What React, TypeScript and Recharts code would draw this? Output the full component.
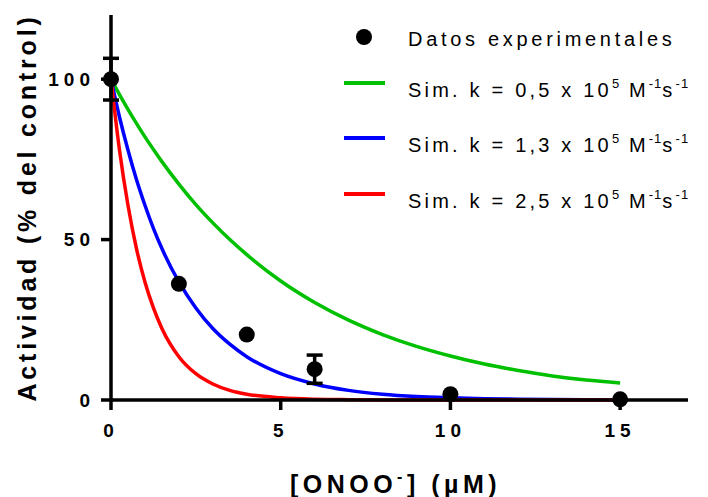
import { ComposedChart, Line, Scatter, ErrorBar, XAxis, YAxis, Legend, Label } from 'recharts';

// simulated decay curves
const simX = [0, 0.25, 0.5, 0.75, 1, 1.25, 1.5, 2, 2.5, 3, 3.5, 4, 5, 6, 7, 8, 9, 10, 11, 12, 13, 14, 15];
const greenY = [100, 95.2, 90.6, 86.2, 82.0, 78.1, 74.3, 67.3, 60.9, 55.2, 50.0, 45.3, 37.1, 30.4, 24.9, 20.4, 16.7, 13.7, 11.2, 9.2, 7.5, 6.2, 5.3];
const blueY = [100, 88.2, 77.9, 68.7, 60.7, 53.5, 47.2, 36.8, 28.7, 22.3, 17.4, 13.5, 8.2, 5.0, 3.0, 1.8, 1.1, 0.7, 0.4, 0.25, 0.15, 0.1, 0.05];
const redY = [100, 77.9, 60.7, 47.2, 36.8, 28.7, 22.3, 13.5, 8.2, 5.0, 3.0, 1.8, 0.7, 0.25, 0.1, 0.03, 0.01, 0, 0, 0, 0, 0, 0];

// experimental points
const expX = [0, 2, 4, 6, 10, 15];
const expY = [100, 36.2, 20.4, 9.6, 1.8, 0.2];
const expErr = [6.5, null, null, 4.4, null, null];

const kLabels = ['0,5', '1,3', '2,5'];
const COLORS = ['#00C000', '#0000FF', '#FF0000'];
const xTicks = [0, 5, 10, 15];
const yTicks = [0, 50, 100];

const FONT = '"Liberation Sans", Arial, sans-serif';

const simRows = simX.map((x, i) => ({ x, green: greenY[i], blue: blueY[i], red: redY[i] }));
const expRows = expX.map((x, i) => ({ x, y: expY[i], err: expErr[i] }));

const tickStyle = { fill: '#000', fontSize: 19, fontWeight: 'bold', fontFamily: FONT, letterSpacing: 5 };

const sup = { fontSize: 13, position: 'relative' as const, top: -9, letterSpacing: 1 };

function LegendBox() {
  const text = { position: 'absolute' as const, left: 408, fontSize: 20, lineHeight: '20px', letterSpacing: 3.7, whiteSpace: 'nowrap' as const, fontFamily: FONT, color: '#000' };
  const lineY = [83, 138, 194];
  return (
    <div style={{ position: 'relative', width: 708, height: 497 }}>
      <div style={{ position: 'absolute', left: 356, top: 29, width: 16, height: 16, borderRadius: 8, background: '#000' }} />
      <div style={{ ...text, top: 29 }}>Datos experimentales</div>
      {kLabels.map((k, i) => (
        <div key={k}>
          <div style={{ position: 'absolute', left: 344, top: lineY[i] - 2, width: 41, height: 4, background: COLORS[i] }} />
          <div style={{ ...text, top: lineY[i] - 3, letterSpacing: 3.2 }}>
            Sim. k = {k} x 10<span style={sup}>5</span> M<span style={sup}>-1</span>s<span style={sup}>-1</span>
          </div>
        </div>
      ))}
    </div>
  );
}

export default function App() {
  return (
    <div style={{ position: 'absolute', left: 0, top: 0, background: '#fff' }}>
      <ComposedChart width={708} height={497} data={simRows} margin={{ top: 15, right: 20, left: 0, bottom: 0 }}>
        <XAxis
          dataKey="x"
          type="number"
          domain={[0, 17]}
          ticks={xTicks}
          height={97}
          axisLine={{ stroke: '#000', strokeWidth: 3.5 }}
          tickLine={{ stroke: '#000', strokeWidth: 3.5 }}
          tickSize={10}
          tickMargin={14}
          tick={tickStyle}
        >
          <Label
            content={({ viewBox }: any) => (
              <text
                x={viewBox.x + viewBox.width / 2 - 4}
                y={493}
                textAnchor="middle"
                fontFamily={FONT}
                fontWeight="bold"
                fontSize={25}
                letterSpacing={4.5}
                fill="#000"
              >
                [ONOO<tspan dy={-11} fontSize={16}>-</tspan>
                <tspan dy={11}>] (µM)</tspan>
              </text>
            )}
          />
        </XAxis>
        <YAxis
          type="number"
          domain={[0, 120]}
          ticks={yTicks}
          width={111}
          axisLine={{ stroke: '#000', strokeWidth: 3.5 }}
          tickLine={{ stroke: '#000', strokeWidth: 3.5 }}
          tickSize={10}
          tickMargin={6}
          tick={tickStyle}
        >
          <Label
            content={({ viewBox }: any) => {
              const cx = viewBox.x + 27;
              const cy = viewBox.y + viewBox.height / 2;
              return (
                <text
                  x={cx}
                  y={cy}
                  transform={`rotate(-90 ${cx} ${cy})`}
                  textAnchor="middle"
                  dominantBaseline="central"
                  fontFamily={FONT}
                  fontWeight="bold"
                  fontSize={25}
                  letterSpacing={3.8}
                  fill="#000"
                >
                  Actividad (% del control)
                </text>
              );
            }}
          />
        </YAxis>
        <Legend
          layout="vertical"
          align="center"
          verticalAlign="middle"
          wrapperStyle={{ left: 0, top: 0, width: 708, height: 497 }}
          content={() => <LegendBox />}
        />
        <Line dataKey="green" type="monotone" stroke={COLORS[0]} strokeWidth={3.5} dot={false} isAnimationActive={false} />
        <Line dataKey="blue" type="monotone" stroke={COLORS[1]} strokeWidth={3.5} dot={false} isAnimationActive={false} />
        <Line dataKey="red" type="monotone" stroke={COLORS[2]} strokeWidth={3.5} dot={false} isAnimationActive={false} />
        <Scatter
          data={expRows}
          dataKey="y"
          fill="#000"
          isAnimationActive={false}
          shape={(p: any) => <circle cx={p.cx} cy={p.cy} r={8} fill="#000" />}
        >
          <ErrorBar dataKey="err" direction="y" width={8} stroke="#000" strokeWidth={3.5} />
        </Scatter>
      </ComposedChart>
    </div>
  );
}
